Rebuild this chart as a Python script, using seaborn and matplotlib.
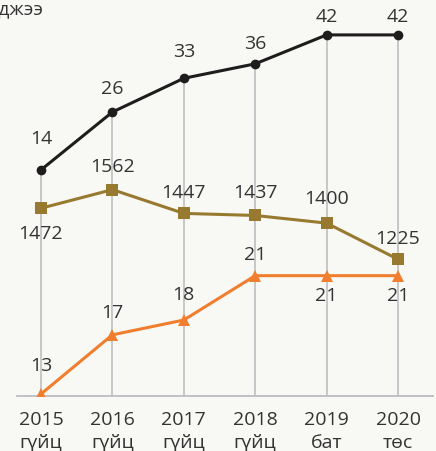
import matplotlib.pyplot as plt
import seaborn as sns
import pandas as pd

years = ["2015", "2016", "2017", "2018", "2019", "2020"]
periods = ["гүйц", "гүйц", "гүйц", "гүйц", "бат", "төс"]
black_vals = [14, 26, 33, 36, 42, 42]
brown_vals = [1472, 1562, 1447, 1437, 1400, 1225]
orange_vals = [13, 17, 18, 21, 21, 21]
title = "нэмэгджээ"

veri = pd.DataFrame({"x": range(len(years)), "black": black_vals,
                     "brown": brown_vals, "orange": orange_vals})

sns.set_style("white")
plt.rcParams["font.family"] = ["Open Sans", "DejaVu Sans"]
bg = "#f8f8f5"
txt = "#333333"

fig = plt.figure(figsize=(4.36, 4.52), dpi=100, facecolor=bg)
W, H = 436, 452
rect = [17 / W, 55 / H, (433 - 17) / W, (397 - 20) / H]
ax = fig.add_axes(rect)
ax.set_facecolor(bg)
ax2 = ax.twinx()
ax3 = ax.twinx()
axb = ax.twinx()

# eksen sinirlari
ax.set_xlim(-0.336, 5.49)
ax.set_ylim(-32.9, 45.3)
axb.set_ylim(-32.9, 45.3)
ax2.set_ylim(563.6, 2387.5)
ax3.set_ylim(12.865, 38.35)

# dikey cizgiler
ax.vlines(veri.x, -32.9, veri.black, color="#c3c3c6", lw=1.3, zorder=0)

sns.lineplot(data=veri, x="x", y="brown", ax=ax2, color="#987930", lw=2.2,
             marker="s", markersize=8, markeredgewidth=0)
sns.lineplot(data=veri, x="x", y="orange", ax=ax3, color="#f07e2e", lw=2.2,
             marker="^", markersize=8, markeredgewidth=0)
sns.lineplot(data=veri, x="x", y="black", ax=axb, color="#1e1c1c",
             lw=2.2, marker="o", markersize=7, markeredgewidth=0)

for a in [ax, ax2, ax3, axb]:
    a.set_yticks([])
    a.set_ylabel("")
    a.set_xlabel("")
    for s in ["top", "right", "left"]:
        a.spines[s].set_visible(False)
    if a is not ax:
        a.spines["bottom"].set_visible(False)
        a.patch.set_visible(False)
ax.spines["bottom"].set_color("#bdbdc0")
ax.spines["bottom"].set_linewidth(1.3)

ax.set_xticks(veri.x)
ax.set_xticklabels([y + "\n" + p for y, p in zip(years, periods)],
                   fontsize=14, color=txt, linespacing=1.4)
ax.tick_params(axis="x", length=0, pad=10)

fs = 14
black_off = [32, 24, 27, 21, 19, 19]
brown_off = [-25, 24, 21, 23, 25, 21]
orange_off = [29, 23, 26, 22, -19, -19]
for i, v in enumerate(black_vals):
    axb.annotate(str(v), (i, v), xytext=(0, black_off[i]),
                 textcoords="offset pixels", ha="center", va="center",
                 fontsize=fs, color=txt)
for i, v in enumerate(brown_vals):
    ax2.annotate(str(v), (i, v), xytext=(0, brown_off[i]),
                 textcoords="offset pixels", ha="center", va="center",
                 fontsize=fs, color=txt)
for i, v in enumerate(orange_vals):
    ax3.annotate(str(v), (i, v), xytext=(0, orange_off[i]),
                 textcoords="offset pixels", ha="center", va="center",
                 fontsize=fs, color=txt)

fig.text(43 / W, 1 - 9 / H, title, ha="right", va="center", fontsize=14,
         color=txt)

fig.savefig("out.png", dpi=100, facecolor=bg)
